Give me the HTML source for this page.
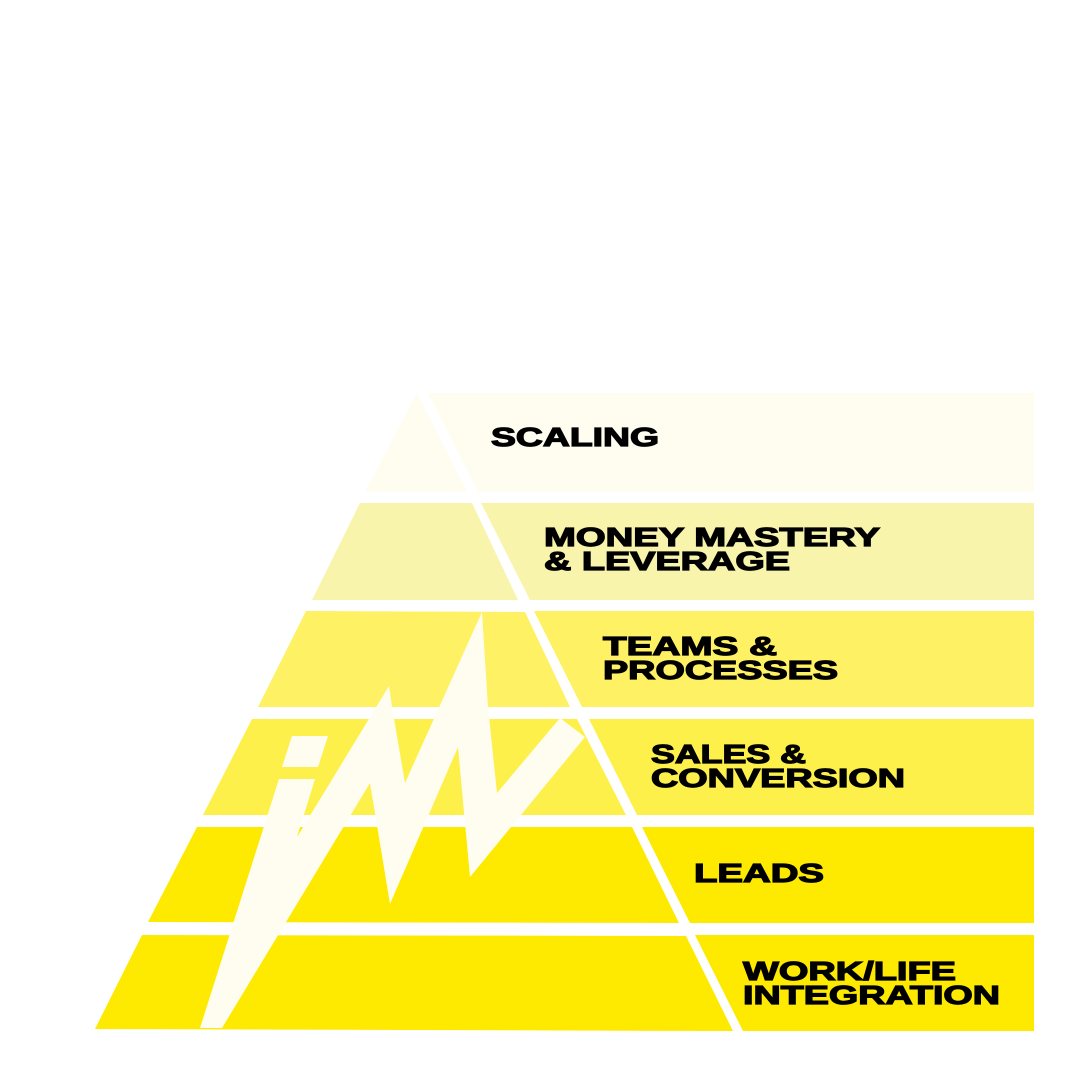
<!DOCTYPE html>
<html><head><meta charset="utf-8"><style>html,body{margin:0;padding:0;background:#fff}svg{display:block}</style></head>
<body>
<svg width="1080" height="1080" viewBox="0 0 1080 1080" xmlns="http://www.w3.org/2000/svg">
<rect width="1080" height="1080" fill="#fff"/>
<polygon points="417,393 467,492 365,492" fill="#FEFDEF"/>
<polygon points="428,393 1034,393 1034,492 478,492" fill="#FEFDEF"/>
<polygon points="360,503 472,503 518,600 312,600" fill="#F9F4AC"/>
<polygon points="481,503 1034,503 1034,600 530,600" fill="#F9F4AC"/>
<polygon points="306,611 525,612 570,707 258,707" fill="#FEF164"/>
<polygon points="534,611 1034,611 1034,707 582,707" fill="#FEF164"/>
<polygon points="252,719 577,719 626,815 203,815" fill="#FEF04A"/>
<polygon points="589,719 1034,719 1034,815 637,815" fill="#FEF04A"/>
<polygon points="197,827 632,827 679,923 148,922" fill="#FEE900"/>
<polygon points="642,827 1034,827 1034,923 690,923" fill="#FEE900"/>
<polygon points="142,935 686,936 733,1031 95,1029" fill="#FEE900"/>
<polygon points="695,935 1034,935 1034,1031 743,1031" fill="#FEE900"/>
<polygon points="292,736 328,736 318,767 282,767" fill="#FFFDF0"/>
<polygon points="200,1028 279,779 315,779 297,837 389,686 392,707 405,783 482,612 488,707 497,793 560,718 585,737 470,877 458,747 390,904 370,783 222,1028" fill="#FFFDF0"/>
<g font-family="Liberation Sans, sans-serif" font-weight="bold" font-size="26" fill="#000" stroke="#000" stroke-width="1.2">
<text x="491" y="446" textLength="168" lengthAdjust="spacingAndGlyphs">SCALING</text>
<text x="544" y="546" textLength="336" lengthAdjust="spacingAndGlyphs">MONEY MASTERY</text>
<text x="544" y="570" textLength="246" lengthAdjust="spacingAndGlyphs">&amp; LEVERAGE</text>
<text x="603" y="655" textLength="174" lengthAdjust="spacingAndGlyphs">TEAMS &amp;</text>
<text x="603" y="679" textLength="235" lengthAdjust="spacingAndGlyphs">PROCESSES</text>
<text x="651" y="763" textLength="155" lengthAdjust="spacingAndGlyphs">SALES &amp;</text>
<text x="651" y="787" textLength="254" lengthAdjust="spacingAndGlyphs">CONVERSION</text>
<text x="694" y="882" textLength="130" lengthAdjust="spacingAndGlyphs">LEADS</text>
<text x="743" y="980" textLength="213" lengthAdjust="spacingAndGlyphs">WORK/LIFE</text>
<text x="743" y="1004" textLength="257" lengthAdjust="spacingAndGlyphs">INTEGRATION</text>
</g>
</svg>
</body></html>
